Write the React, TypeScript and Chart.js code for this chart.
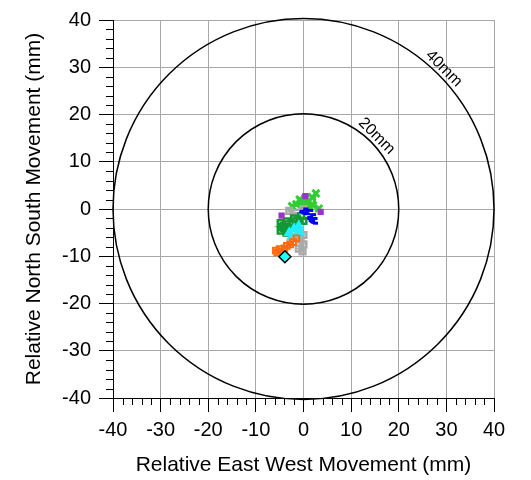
import React, { useEffect, useRef } from "react";
import { Chart, registerables } from "chart.js";

Chart.register(...registerables);

const axisMin = -40;
const axisMax = 40;
const majorStep = 10;
const minorStep = 2;
const ringRadii = [20, 40];
const ringLabels = ["20mm", "40mm"];

const xTitle = "Relative East West Movement (mm)";
const yTitle = "Relative North South Movement (mm)";

// Movement tracks (East-West mm, North-South mm)
const greenX = [0, -1.5, -0.6, 0.4, 1.0, 1.8, 2.6, 2.0, 3.2, -0.8, 1.2, 0.2, -2.4];
const greenY = [0, 1.0, 1.8, 2.3, 1.5, 2.5, 3.3, 0.8, 0.1, 2.0, 0.5, 1.2, 0.6];

const blueX = [0, 1.0, 0.2, -0.8, 1.6, 1.9, 1.4, 2.0, 0.8];
const blueY = [0, -0.3, -1.0, -0.5, -1.2, -2.0, -2.6, -3.0, -1.8];

const darkGreenX = [-0.5, -2.0, -3.5, -4.8, -4.8, -3.6, -3.3, -4.5, -1.6, 0.0];
const darkGreenY = [-1.5, -2.0, -2.6, -3.0, -4.6, -5.0, -4.0, -3.8, -3.4, -2.5];

const grayX = [0, -3.0, -2.0, -1.0, -2.6, -1.0, 0.0, -0.6, 0.0, -1.0, -0.2];
const grayY = [0, -0.4, -1.5, -2.5, -3.5, -4.5, -5.5, -6.5, -7.5, -8.4, -9.0];

const cyanX = [-1.0, -2.0, -3.0, -1.5, -2.5, -0.8];
const cyanY = [-3.6, -4.2, -5.0, -5.5, -6.0, -4.8];

const orangeX = [-1.5, -2.2, -2.8, -3.5, -4.0, -5.0, -5.8, -5.5];
const orangeY = [-6.2, -7.0, -7.5, -7.8, -8.3, -8.5, -8.8, -9.2];

const purpleX = [-4.6, 3.6, 0.4];
const purpleY = [-1.4, -0.6, 2.7];

const latestX = [-3.9];
const latestY = [-10.1];

const pts = (xs: number[], ys: number[]) => xs.map((x, i) => ({ x, y: ys[i] }));

const FONT = "'Liberation Sans', Arial, sans-serif";

const decorPlugin = {
  id: "decor",
  beforeDatasetsDraw(chart: any) {
    const { ctx, scales } = chart;
    const xs = scales.x;
    const ys = scales.y;
    const cx = xs.getPixelForValue(0);
    const cy = ys.getPixelForValue(0);
    ctx.save();
    ctx.strokeStyle = "#000";
    ctx.lineWidth = 1.5;
    ringRadii.forEach((r, i) => {
      const rp = xs.getPixelForValue(r) - cx;
      ctx.beginPath();
      ctx.arc(cx, cy, rp, 0, Math.PI * 2);
      ctx.stroke();
      const a = -Math.PI / 4;
      const off = 8;
      const tx = cx + Math.cos(a) * (rp + off);
      const ty = cy + Math.sin(a) * (rp + off);
      ctx.save();
      ctx.translate(tx, ty);
      ctx.rotate(Math.PI / 4);
      ctx.fillStyle = "#000";
      ctx.font = "16px " + FONT;
      ctx.textAlign = "center";
      ctx.textBaseline = "middle";
      ctx.fillText(ringLabels[i], 0, 0);
      ctx.restore();
    });
    ctx.restore();
  },
  afterDraw(chart: any) {
    const { ctx, scales, chartArea } = chart;
    const xs = scales.x;
    const ys = scales.y;
    ctx.save();
    ctx.strokeStyle = "#000";
    ctx.lineWidth = 1;
    ctx.beginPath();
    for (let v = axisMin; v <= axisMax; v += minorStep) {
      if (v % majorStep === 0) continue;
      const px = Math.round(xs.getPixelForValue(v)) + 0.5;
      ctx.moveTo(px, chartArea.bottom);
      ctx.lineTo(px, chartArea.bottom + 7);
      const py = Math.round(ys.getPixelForValue(v)) + 0.5;
      ctx.moveTo(chartArea.left - 7, py);
      ctx.lineTo(chartArea.left, py);
    }
    ctx.stroke();
    ctx.restore();
  },
};

export default function App() {
  const ref = useRef<HTMLCanvasElement>(null);

  useEffect(() => {
    document.body.style.margin = "0";
    const canvas = ref.current!;
    const line = (
      label: string,
      xs: number[],
      ys: number[],
      color: string,
      style: any,
      radius: number,
      fill: string,
      showLine = true,
      width = 2
    ) => ({
      label,
      data: pts(xs, ys),
      showLine,
      borderColor: color,
      backgroundColor: fill,
      borderWidth: 2.5,
      pointStyle: style,
      pointRadius: radius,
      pointBorderColor: color,
      pointBackgroundColor: fill,
      pointBorderWidth: width,
    });
    const datasets: any[] = [
      {
        label: "Latest",
        data: pts(latestX, latestY),
        showLine: false,
        pointStyle: "rectRot",
        pointRadius: 6,
        pointBorderColor: "#000",
        pointBackgroundColor: "#22ffff",
        pointBorderWidth: 1.5,
      },
      line("Purple", purpleX, purpleY, "#9933cc", "rect", 3, "#9933cc", false),
      line("Orange", orangeX, orangeY, "#ff6a10", "rect", 4, "rgba(0,0,0,0)"),
      line("Cyan", cyanX, cyanY, "#22eeff", "triangle", 4.5, "#22eeff"),
      line("Blue", blueX, blueY, "#0000ee", "dash", 5, "#0000ee", true, 3),
      line("DarkGreen", darkGreenX, darkGreenY, "#119933", "rect", 4, "rgba(0,0,0,0)", true, 2.5),
      line("Gray", grayX, grayY, "#aaaaaa", "rect", 4, "rgba(0,0,0,0)", true, 2.5),
      line("Green", greenX, greenY, "#33cc33", "crossRot", 5, "#33cc33", true, 3),
    ];

    const scaleCommon = (title: string, isX: boolean) => ({
      type: "linear",
      min: axisMin,
      max: axisMax,
      ticks: {
        stepSize: majorStep,
        color: "#000",
        font: { family: FONT, size: 20 },
        padding: isX ? 6 : 8,
        maxRotation: 0,
        autoSkip: false,
      },
      grid: {
        color: "#a8a8a8",
        lineWidth: 1,
        tickColor: "#000",
        tickLength: 14,
        drawTicks: true,
      },
      border: { display: true, color: "#000", width: 1 },
      title: {
        display: true,
        text: title,
        color: "#000",
        font: { family: FONT, size: 21 },
        padding: isX ? { top: 0, bottom: 2 } : { top: 22, bottom: 0 },
      },
      afterFit: (s: any) => {
        if (isX) s.height = 82;
        else s.width = 113;
      },
    });

    const chart = new Chart(canvas, {
      type: "scatter",
      data: { datasets },
      options: {
        responsive: false,
        animation: false,
        layout: { padding: { top: 18, right: 37, left: 0, bottom: 0 } },
        plugins: { legend: { display: false }, tooltip: { enabled: false } },
        scales: {
          x: scaleCommon(xTitle, true),
          y: scaleCommon(yTitle, false),
        } as any,
      },
      plugins: [decorPlugin],
    });
    return () => chart.destroy();
  }, []);

  return (
    <div style={{ width: 531, height: 480, background: "#fff" }}>
      <canvas ref={ref} width={531} height={480} />
    </div>
  );
}
